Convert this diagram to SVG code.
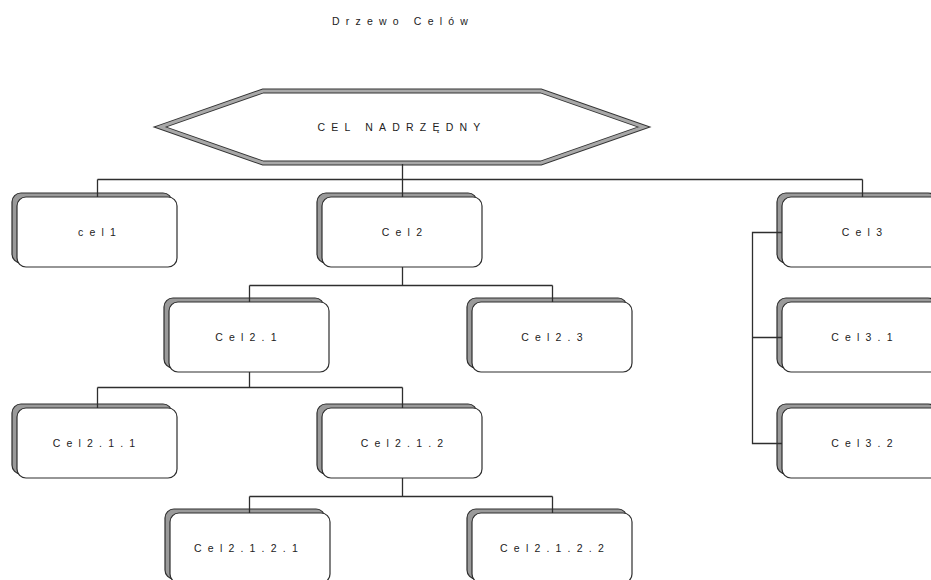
<svg xmlns="http://www.w3.org/2000/svg" width="931" height="580" viewBox="0 0 931 580">
  <defs>
    <style>
      .bg { fill: #ffffff; }
      .lbl { font-family: "Liberation Sans", Arial, sans-serif; font-size: 10.5px; letter-spacing: 6.2px; fill: #222222; text-anchor: middle; }
      .shadow { fill: #9a9a9a; stroke: #2e2e2e; stroke-width: 1.2; }
      .box { fill: #ffffff; stroke: #2e2e2e; stroke-width: 1.2; }
      .hex-outer { fill: #ffffff; stroke: #333333; stroke-width: 5; stroke-linejoin: miter; }
      .hex-inner { fill: none; stroke: #a8a8a8; stroke-width: 3; stroke-linejoin: miter; }
      .wire { fill: none; stroke: #2e2e2e; stroke-width: 1.3; }
    </style>
    <!-- rounded goal box with its offset shadow; origin at top-left of the front box -->
    <g id="goalBox">
      <rect class="shadow" x="-5" y="-4" width="160" height="70" rx="9" ry="9"/>
      <rect class="box" x="0" y="0" width="160" height="70" rx="9" ry="9"/>
    </g>
  </defs>

  <rect class="bg" x="0" y="0" width="931" height="580"/>

  <text class="lbl" x="403" y="25">Drzewo Celów</text>

  <g id="root">
    <polygon class="hex-outer" points="160,127 263,91 541,91 644,127 541,163 263,163"/>
    <polygon class="hex-inner" points="160,127 263,91 541,91 644,127 541,163 263,163"/>
    <text class="lbl" x="402" y="131">CEL NADRZĘDNY</text>
  </g>

  <g id="cel1">
    <use href="#goalBox" x="17" y="197"/>
    <text class="lbl" x="100" y="236">cel1</text>
  </g>
  <g id="cel2">
    <use href="#goalBox" x="322" y="197"/>
    <text class="lbl" x="405" y="236">Cel2</text>
  </g>
  <g id="cel3">
    <use href="#goalBox" x="782" y="197"/>
    <text class="lbl" x="865" y="236">Cel3</text>
  </g>
  <g id="cel2-1">
    <use href="#goalBox" x="169" y="302"/>
    <text class="lbl" x="249" y="341">Cel2.1</text>
  </g>
  <g id="cel2-3">
    <use href="#goalBox" x="472" y="302"/>
    <text class="lbl" x="555" y="341">Cel2.3</text>
  </g>
  <g id="cel3-1">
    <use href="#goalBox" x="782" y="302"/>
    <text class="lbl" x="865" y="341">Cel3.1</text>
  </g>
  <g id="cel2-1-1">
    <use href="#goalBox" x="17" y="408"/>
    <text class="lbl" x="97" y="447">Cel2.1.1</text>
  </g>
  <g id="cel2-1-2">
    <use href="#goalBox" x="322" y="408"/>
    <text class="lbl" x="405" y="447">Cel2.1.2</text>
  </g>
  <g id="cel3-2">
    <use href="#goalBox" x="782" y="408"/>
    <text class="lbl" x="865" y="447">Cel3.2</text>
  </g>
  <g id="cel2-1-2-1">
    <use href="#goalBox" x="170" y="513"/>
    <text class="lbl" x="249" y="552">Cel2.1.2.1</text>
  </g>
  <g id="cel2-1-2-2">
    <use href="#goalBox" x="472" y="513"/>
    <text class="lbl" x="555" y="552">Cel2.1.2.2</text>
  </g>

  <g id="connectors">
    <!-- root to first level -->
    <path class="wire" d="M402.5,164 V179.5 M97.5,179.5 H862.5 M97.5,179.5 V197 M402.5,179.5 V197 M862.5,179.5 V197"/>
    <!-- Cel2 to its children -->
    <path class="wire" d="M402.5,267 V285.5 M249.5,285.5 H552.5 M249.5,285.5 V302 M552.5,285.5 V302"/>
    <!-- Cel2.1 to its children -->
    <path class="wire" d="M249.5,372 V387.5 M97.5,387.5 H402.5 M97.5,387.5 V408 M402.5,387.5 V408"/>
    <!-- Cel2.1.2 to its children -->
    <path class="wire" d="M402.5,478 V496.5 M249.5,496.5 H552.5 M249.5,496.5 V513 M552.5,496.5 V513"/>
    <!-- Cel3 side bracket -->
    <path class="wire" d="M782,232.5 H752.5 V443.5 H782 M752.5,337.5 H782"/>
  </g>
</svg>
